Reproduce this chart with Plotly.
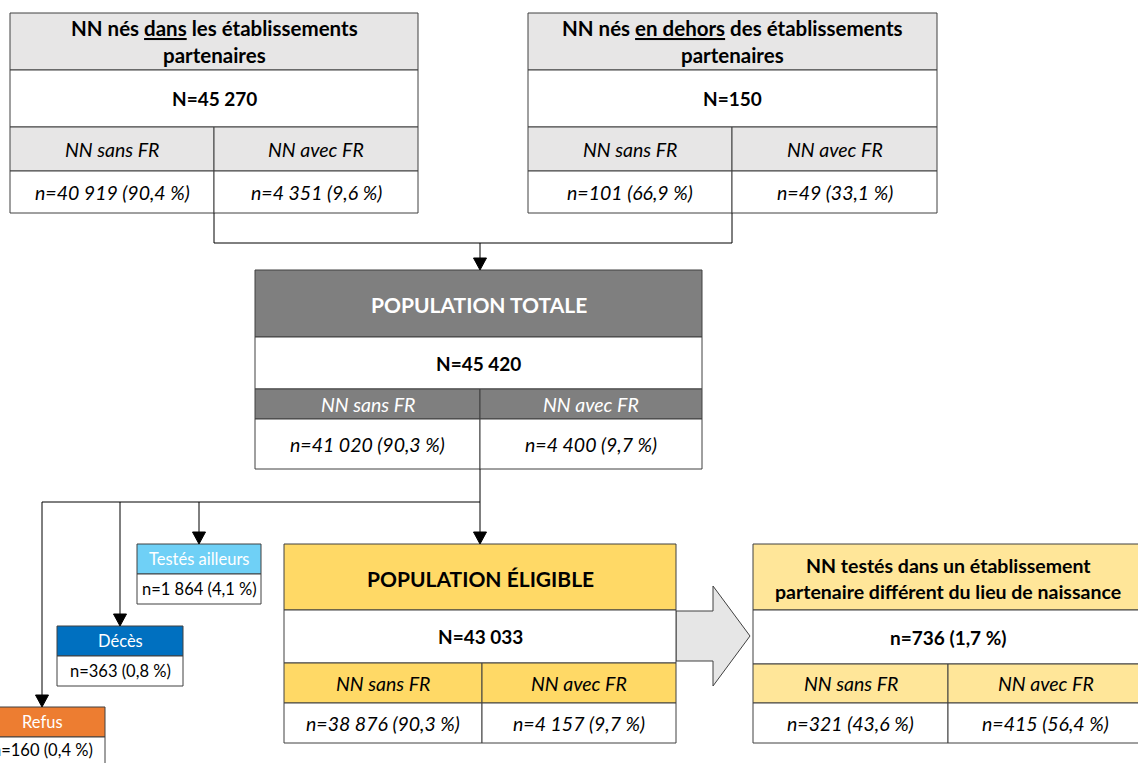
import plotly.graph_objects as go

# ---------------- data (text content) ----------------
box_titles = [
    ["NN nés <u>dans</u> les établissements", "partenaires"],
    ["NN nés <u>en dehors</u> des établissements", "partenaires"],
    ["POPULATION TOTALE"],
    ["POPULATION ÉLIGIBLE"],
    ["NN testés dans un établissement", "partenaire différent du lieu de naissance"],
]
box_totals = ["N=45 270", "N=150", "N=45 420", "N=43 033", "n=736 (1,7 %)"]
group_labels = ["NN sans FR", "NN avec FR"]
sans_fr = ["n=40 919 (90,4 %)", "n=101 (66,9 %)", "n=41 020 (90,3 %)", "n=38 876 (90,3 %)", "n=321 (43,6 %)"]
avec_fr = ["n=4 351 (9,6 %)", "n=49 (33,1 %)", "n=4 400 (9,7 %)", "n=4 157 (9,7 %)", "n=415 (56,4 %)"]
excl_labels = ["Testés ailleurs", "Décès", "Refus"]
excl_values = ["n=1 864 (4,1 %)", "n=363 (0,8 %)", "n=160 (0,4 %)"]

# ---------------- layout / styles ----------------
W, H = 1138, 763
FONT = "Lato"
BORDER = "#404040"

boxes_geo = [
    dict(x0=10, x1=418, xs=214, ys=[13, 70, 127, 171, 213], hl=[28, 55],
         hc="#e7e6e6", sc="#e7e6e6", htc="black", stc="black", hs=20.5),
    dict(x0=528, x1=937, xs=732, ys=[13, 70, 127, 171, 213], hl=[28, 55],
         hc="#e7e6e6", sc="#e7e6e6", htc="black", stc="black", hs=20.5),
    dict(x0=255, x1=702, xs=480, ys=[270, 337, 389, 419, 469], hl=[304],
         hc="#7f7f7f", sc="#7f7f7f", htc="white", stc="white", hs=21),
    dict(x0=284, x1=676, xs=482, ys=[544, 610, 663, 703, 743], hl=[578],
         hc="#ffd966", sc="#ffd966", htc="black", stc="black", hs=21),
    dict(x0=753, x1=1143, xs=948, ys=[544, 610, 664, 703, 743], hl=[565, 591],
         hc="#ffe699", sc="#ffe699", htc="black", stc="black", hs=19.5),
]
excl_geo = [
    dict(x0=137, x1=261, ys=[544, 574, 604], c="#6fd0f6"),
    dict(x0=57, x1=183, ys=[626, 656, 686], c="#0070c0"),
    dict(x0=-21, x1=105, ys=[707, 737, 767], c="#ed7d31"),
]

TOTAL_SIZE = 19
CELL_SIZE = 19.5
EXCL_SIZE = 16.5

shapes = []
annotations = []


def rect(x0, y0, x1, y1, fill):
    shapes.append(dict(type="rect", xref="x", yref="y", x0=x0, x1=x1, y0=y0, y1=y1,
                       fillcolor=fill, line=dict(color=BORDER, width=1), layer="above"))


def line(x0, y0, x1, y1):
    shapes.append(dict(type="line", xref="x", yref="y", x0=x0, x1=x1, y0=y0, y1=y1,
                       line=dict(color="black", width=1), layer="above"))


def arrow_down(x, ytip, size=12, half=6.5):
    shapes.append(dict(type="path", xref="x", yref="y",
                       path=f"M {x-half},{ytip-size} L {x+half},{ytip-size} L {x},{ytip} Z",
                       fillcolor="black", line=dict(color="black", width=1), layer="above"))


def text(x, y, s, size, color="black", bold=False, italic=False):
    t = s
    if bold:
        t = f"<b>{t}</b>"
    if italic:
        t = f"<i>{t}</i>"
    annotations.append(dict(x=x, y=y, xref="x", yref="y", text=t, showarrow=False,
                            xanchor="center", yanchor="middle",
                            font=dict(family=FONT, size=size, color=color)))


# big grey arrow between eligible and right box
shapes.append(dict(type="path", xref="x", yref="y",
                   path="M 676,611 L 713,611 L 713,586 L 750,636 L 713,686 L 713,661 L 676,661 Z",
                   fillcolor="#e6e6e6", line=dict(color=BORDER, width=1), layer="above"))

# main boxes
for i, g in enumerate(boxes_geo):
    x0, x1, xs = g["x0"], g["x1"], g["xs"]
    y = g["ys"]
    rect(x0, y[0], x1, y[1], g["hc"])
    rect(x0, y[1], x1, y[2], "white")
    rect(x0, y[2], xs, y[3], g["sc"])
    rect(xs, y[2], x1, y[3], g["sc"])
    rect(x0, y[3], xs, y[4], "white")
    rect(xs, y[3], x1, y[4], "white")
    for ln, yy in zip(box_titles[i], g["hl"]):
        text((x0 + x1) / 2, yy, ln, g["hs"], g["htc"], bold=True)
    text((x0 + x1) / 2, (y[1] + y[2]) / 2, box_totals[i], TOTAL_SIZE, "black", bold=True)
    text((x0 + xs) / 2, (y[2] + y[3]) / 2, group_labels[0], CELL_SIZE, g["stc"], italic=True)
    text((xs + x1) / 2, (y[2] + y[3]) / 2, group_labels[1], CELL_SIZE, g["stc"], italic=True)
    text((x0 + xs) / 2, (y[3] + y[4]) / 2, sans_fr[i], CELL_SIZE, "black", italic=True)
    text((xs + x1) / 2, (y[3] + y[4]) / 2, avec_fr[i], CELL_SIZE, "black", italic=True)

# exclusion boxes
for i, g in enumerate(excl_geo):
    y = g["ys"]
    rect(g["x0"], y[0], g["x1"], y[1], g["c"])
    rect(g["x0"], y[1], g["x1"], y[2], "white")
    text((g["x0"] + g["x1"]) / 2, (y[0] + y[1]) / 2, excl_labels[i], EXCL_SIZE, "white")
    text((g["x0"] + g["x1"]) / 2, min((y[1] + y[2]) / 2, 750), excl_values[i], EXCL_SIZE, "black")

# connectors top -> total
line(214, 213, 214, 243)
line(732, 213, 732, 243)
line(214, 243, 732, 243)
line(480, 243, 480, 259)
arrow_down(480, 270)

# connectors total -> eligible / exclusions
line(480, 469, 480, 502)
line(42, 502, 480, 502)
line(480, 502, 480, 533)
arrow_down(480, 544)
line(199, 502, 199, 533)
arrow_down(199, 544)
line(120, 502, 120, 615)
arrow_down(120, 626)
line(42, 502, 42, 696)
arrow_down(42, 707)

fig = go.Figure()
fig.update_layout(
    width=W, height=H,
    margin=dict(l=0, r=0, t=0, b=0),
    paper_bgcolor="white", plot_bgcolor="white",
    xaxis=dict(range=[0, W], visible=False, fixedrange=True),
    yaxis=dict(range=[H, 0], visible=False, fixedrange=True),
    shapes=shapes, annotations=annotations, showlegend=False,
)
fig.write_html("out.html", post_script="document.body.style.margin='0px';",
               config={"displayModeBar": False})
